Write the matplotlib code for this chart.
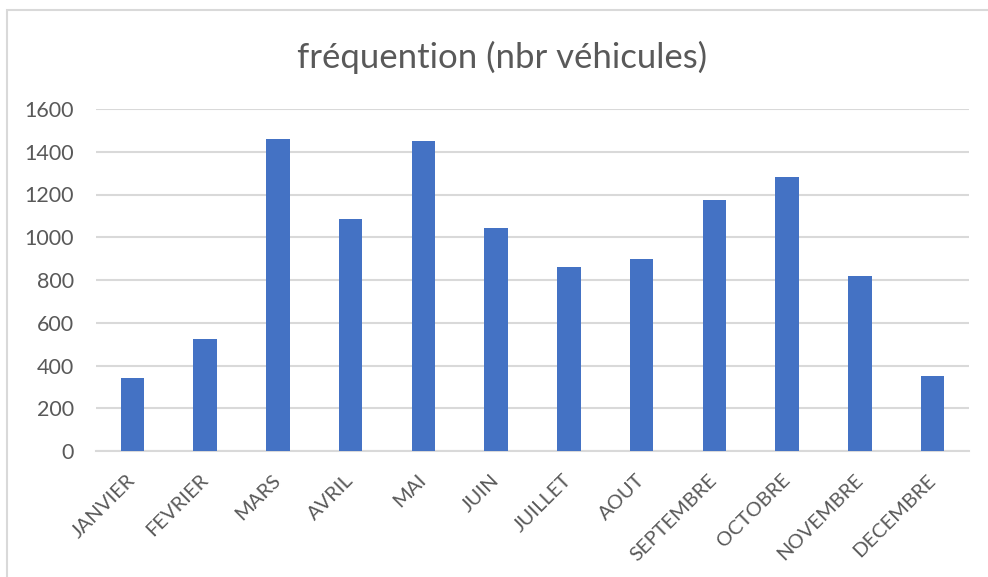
import matplotlib
matplotlib.use("Agg")
import matplotlib.pyplot as plt
from matplotlib.patches import Rectangle

# monthly vehicle counts
mois = ["JANVIER", "FEVRIER", "MARS", "AVRIL", "MAI", "JUIN",
        "JUILLET", "AOUT", "SEPTEMBRE", "OCTOBRE", "NOVEMBRE", "DECEMBRE"]
vehicules = [340, 525, 1460, 1085, 1450, 1042, 862, 898, 1173, 1280, 820, 351]
yticks = [0, 200, 400, 600, 800, 1000, 1200, 1400, 1600]
titre = "fréquention (nbr véhicules)"

plt.rcParams['font.family'] = ['Lato', 'DejaVu Sans']
gris = "#595959"

fig = plt.figure(figsize=(9.88, 5.77), dpi=100)
ax = fig.add_axes([96 / 988, 1 - 451 / 577, (969 - 96) / 988, (451 - 109) / 577])

x = range(len(mois))
ax.bar(x, vehicules, width=0.32, color="#4472C4", zorder=3)

ax.set_xlim(-0.5, len(mois) - 0.5)
ax.set_ylim(0, 1600)
ax.set_yticks(yticks)
ax.set_yticklabels([str(v) for v in yticks], fontsize=15.5, color=gris)
ax.yaxis.grid(True, color="#D9D9D9", linewidth=1.5, zorder=0)
ax.set_xticks(list(x))
ax.set_xticklabels(mois, rotation=45, ha="right", va="center",
                   rotation_mode="anchor", fontsize=14.5, color=gris)
ax.tick_params(axis="both", length=0)
ax.tick_params(axis="x", pad=19)
ax.tick_params(axis="y", pad=16)
for s in ["top", "right", "left"]:
    ax.spines[s].set_visible(False)
ax.spines["bottom"].set_color("#D9D9D9")
ax.spines["bottom"].set_linewidth(1.5)

fig.text(0.508, 1 - 57 / 577, titre, ha="center", va="center",
         fontsize=25, color=gris)

# chart area border (only top and left edges are in frame)
fig.patches.append(Rectangle((7 / 988, -0.1), 1.2, 1 - 10 / 577 + 0.1,
                             transform=fig.transFigure, fill=False,
                             edgecolor="#D9D9D9", linewidth=1.5))

fig.savefig("out.png", dpi=100)
